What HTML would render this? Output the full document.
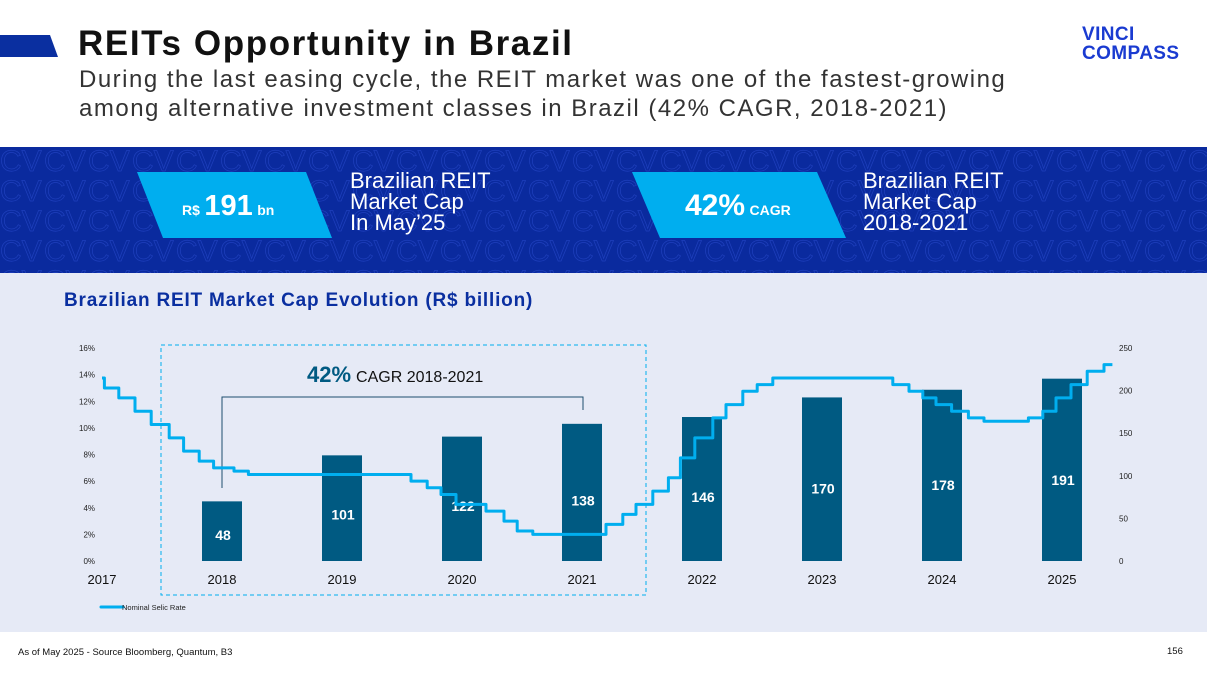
<!DOCTYPE html>
<html><head><meta charset="utf-8"><style>
body{margin:0;width:1207px;height:679px;overflow:hidden;background:#fff;font-family:"Liberation Sans",sans-serif;position:relative}
.abs{position:absolute}
</style></head><body>
<svg class="abs" style="left:0;top:35px" width="60" height="23"><polygon points="0,0 50,0 58,22 0,22" fill="#0a2fa0"/></svg>
<div class="abs" style="left:78px;top:24px;font-size:35px;font-weight:bold;color:#111;letter-spacing:1.6px">REITs Opportunity in Brazil</div>
<div class="abs" style="left:79px;top:65px;font-size:24px;line-height:29px;color:#333;letter-spacing:1.5px;white-space:nowrap">During the last easing cycle, the REIT market was one of the fastest-growing<br>among alternative investment classes in Brazil (42% CAGR, 2018-2021)</div>
<div class="abs" style="left:1082px;top:25px;font-size:19px;font-weight:bold;color:#1a3bd1;line-height:19px;letter-spacing:0.4px">VINCI<br>COMPASS</div>

<div class="abs" style="left:0;top:147px;width:1207px;height:126px;background:#0a2a9e;overflow:hidden">
<svg width="1207" height="126" style="position:absolute;left:0;top:0"><defs><pattern id="p" width="44" height="30" patternUnits="userSpaceOnUse"><text x="0" y="24" font-family="Liberation Sans" font-size="30" fill="none" stroke="#1e3fbd" stroke-width="0.7">CV</text></pattern></defs><rect width="1207" height="126" fill="url(#p)"/></svg>
</div>
<svg class="abs" style="left:0;top:147px" width="1207" height="126">
<polygon points="137,25 306,25 332,91 163,91" fill="#00aeef"/>
<polygon points="632,25 817,25 846,91 660,91" fill="#00aeef"/>
</svg>
<div class="abs" style="left:182px;top:190px;color:#fff;font-weight:bold;white-space:nowrap"><span style="font-size:14px">R$</span> <span style="font-size:29px">191</span> <span style="font-size:14px">bn</span></div>
<div class="abs" style="left:350px;top:170px;color:#fff;font-size:22px;line-height:21px">Brazilian REIT<br>Market Cap<br>In May’25</div>
<div class="abs" style="left:685px;top:189px;color:#fff;font-weight:bold;white-space:nowrap"><span style="font-size:30px">42%</span> <span style="font-size:14px">CAGR</span></div>
<div class="abs" style="left:863px;top:170px;color:#fff;font-size:22px;line-height:21px">Brazilian REIT<br>Market Cap<br>2018-2021</div>

<div class="abs" style="left:0;top:273px;width:1207px;height:359px;background:#e6eaf6"></div>
<div class="abs" style="left:64px;top:290px;font-size:19px;font-weight:bold;color:#0a2fa0;letter-spacing:0.8px">Brazilian REIT Market Cap Evolution (R$ billion)</div>

<svg id="chart" class="abs" style="left:0;top:0" width="1207" height="679"></svg>

<div class="abs" style="left:18px;top:647px;font-size:9.5px;color:#111">As of May 2025 - Source Bloomberg, Quantum, B3</div>
<div class="abs" style="left:1167px;top:646px;font-size:9.5px;color:#111">156</div>

<script>
const years = [2018, 2019, 2020, 2021, 2022, 2023, 2024, 2025];
const barHeights = [70, 124, 146, 161, 169, 192, 201, 214];
const barLabels = ["48", "101", "122", "138", "146", "170", "178", "191"];
const xTickYears = [2017, 2018, 2019, 2020, 2021, 2022, 2023, 2024, 2025];
const leftTicks = [0, 2, 4, 6, 8, 10, 12, 14, 16];
const rightTicks = [0, 50, 100, 150, 200, 250];
const selicDates = [2017.0, 2017.02, 2017.14, 2017.275, 2017.41, 2017.56, 2017.68, 2017.81, 2017.93, 2018.10, 2018.22, 2019.575, 2019.71, 2019.825, 2019.95, 2020.2, 2020.35, 2020.46, 2020.59, 2021.2, 2021.34, 2021.45, 2021.59, 2021.72, 2021.82, 2021.94, 2022.09, 2022.2, 2022.34, 2022.46, 2022.59, 2023.59, 2023.725, 2023.84, 2023.95, 2024.08, 2024.22, 2024.35, 2024.72, 2024.84, 2024.95, 2025.075, 2025.21, 2025.35];
const selicRates = [13.75, 13.0, 12.25, 11.25, 10.25, 9.25, 8.25, 7.5, 7.0, 6.75, 6.5, 6.0, 5.5, 5.0, 4.25, 3.75, 3.0, 2.25, 2.0, 2.75, 3.5, 4.25, 5.25, 6.25, 7.75, 9.25, 10.75, 11.75, 12.75, 13.25, 13.75, 13.25, 12.75, 12.25, 11.75, 11.25, 10.75, 10.5, 10.75, 11.25, 12.25, 13.25, 14.25, 14.75];
const selicEnd = 2025.42;

const NS = "http://www.w3.org/2000/svg";
const svg = document.getElementById("chart");
const xS = y => 102 + (y - 2017) * 120;
const yL = r => 561 - r * (213 / 16);
const yR = v => 561 - v * (213 / 250);
function mk(tag, attrs, parent) { const e = document.createElementNS(NS, tag); for (const k in attrs) e.setAttribute(k, attrs[k]); (parent || svg).appendChild(e); return e; }

let box = mk("rect", {x:161, y:345, width:485, height:250, fill:"none", stroke:"#00aeef", "stroke-width":1, "stroke-dasharray":"4,3"});



leftTicks.forEach(t => {
  const e = mk("text", {x:95, y:yL(t) + 3, "text-anchor":"end", "font-size":8, fill:"#222", "font-family":"Liberation Sans"});
  e.textContent = t + "%";
  
  
});
rightTicks.forEach(t => {
  const e = mk("text", {x:1119, y:yR(t) + 3, "font-size":8, fill:"#222", "font-family":"Liberation Sans"});
  e.textContent = t;
  
  
});
xTickYears.forEach(y => {
  const e = mk("text", {x:xS(y), y:584, "text-anchor":"middle", "font-size":13, fill:"#111", "font-family":"Liberation Sans"});
  e.textContent = y;
  
  
});

years.forEach((y, i) => {
  const top = yR(barHeights[i]);
  const b = mk("rect", {x:xS(y) - 20, y:top, width:40, height:561 - top, fill:"#005a82"});
  
  
  const t = mk("text", {x:xS(y) + 1, y:top + (561 - top) * 0.55 + 6, "text-anchor":"middle", "font-size":14, "font-weight":"bold", fill:"#fff", "font-family":"Liberation Sans"});
  t.textContent = barLabels[i];
  
  
});

let br = mk("polyline", {points:"222,488 222,397 583,397 583,410", fill:"none", stroke:"#1d4e6e", "stroke-width":1});


let ct = mk("text", {x:307, y:382, "font-family":"Liberation Sans", fill:"#005a82"});
ct.innerHTML = '<tspan font-size="22" font-weight="bold">42%</tspan><tspan font-size="16" fill="#111" dx="5">CAGR 2018-2021</tspan>';



let pts = [];
for (let i = 0; i < selicDates.length; i++) {
  const x = xS(selicDates[i]);
  if (i > 0) pts.push(x + "," + yL(selicRates[i - 1]));
  pts.push(x + "," + yL(selicRates[i]));
}
pts.push(xS(selicEnd) + "," + yL(selicRates[selicRates.length - 1]));
let ln = mk("polyline", {points:pts.join(" "), fill:"none", stroke:"#00aeef", "stroke-width":3, "stroke-linejoin":"round"});



let lg = mk("line", {x1:101, y1:607, x2:123, y2:607, stroke:"#00aeef", "stroke-width":3, "stroke-linecap":"round"});


let lt = mk("text", {x:122, y:610, "font-size":7.5, fill:"#222", "font-family":"Liberation Sans"});
lt.textContent = "Nominal Selic Rate";


</script>
</body></html>
